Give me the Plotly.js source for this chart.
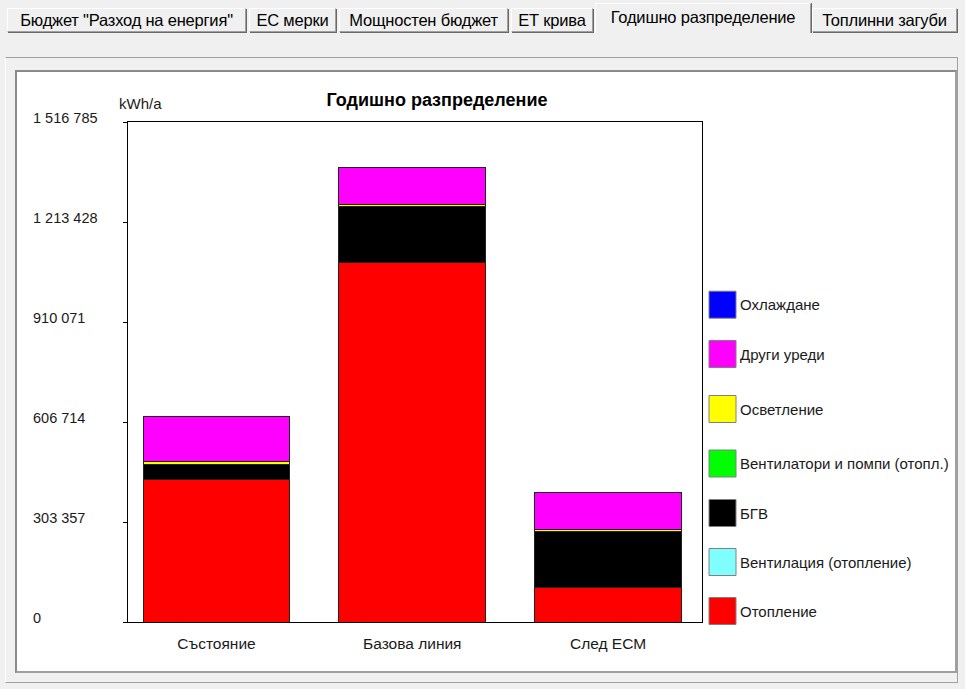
<!DOCTYPE html>
<html>
<head>
<meta charset="utf-8">
<script src="https://cdn.plot.ly/plotly-3.0.1.min.js"></script>
<style>
  html, body { margin:0; padding:0; }
  body { width:965px; height:689px; background:#f0f0f0; position:relative; overflow:hidden;
         font-family:"Liberation Sans", Arial, sans-serif; }
  .tab { position:absolute; top:8px; height:24px; box-sizing:border-box; background:#f0f0f0;
         border-top:1px solid #ffffff; border-left:1px solid #ffffff;
         border-right:1px solid #a0a0a0; border-bottom:1px solid #a0a0a0;
         box-shadow:1px 1px 0 #696969; font-size:16.5px; color:#000; text-align:center; line-height:22px;
         white-space:nowrap; overflow:hidden; letter-spacing:-0.2px; }
  .tab.active { top:3px; height:30px; border-bottom:none; box-shadow:1px 0 0 #696969; line-height:26px; z-index:2; }
  #frame { position:absolute; left:5px; top:57px; width:953px; height:626px; box-sizing:border-box;
           border-top:1px solid #a0a0a0; border-left:1px solid #ffffff; border-right:1px solid #a0a0a0; border-bottom:1px solid #a0a0a0; }
  #panel { position:absolute; left:15px; top:70px; width:942px; height:603px; box-sizing:border-box;
           background:#ffffff; border:2px solid #8a8a8a; border-right-color:#a0a0a0; border-bottom-color:#a0a0a0; }
  #chart { position:absolute; left:0; top:0; width:965px; height:689px; }
</style>
</head>
<body>
<div id="tabs"></div>
<div id="frame"></div>
<div id="panel"></div>
<div id="chart"></div>
<script>
// ---------- data ----------
const tabNames = ['Бюджет "Разход на енергия"', 'ЕС мерки', 'Мощностен бюджет', 'ЕТ крива', 'Годишно разпределение', 'Топлинни загуби'];
const categories = ['Състояние', 'Базова линия', 'След ЕСМ'];
const seriesNames = ['Отопление', 'Вентилация (отопление)', 'БГВ', 'Вентилатори и помпи (отопл.)', 'Осветление', 'Други уреди', 'Охлаждане'];
const heating      = [433400, 1090400, 105400];
const ventilation  = [0, 0, 0];
const hotWater     = [44700, 170100, 169200];
const fansPumps    = [0, 0, 0];
const lighting     = [10000, 7300, 6100];
const otherDevices = [134500, 112400, 112400];
const cooling      = [0, 0, 0];
const tickValues = [0, 303357, 606714, 910071, 1213428, 1516785];
const tickLabels = ['0', '303 357', '606 714', '910 071', '1 213 428', '1 516 785'];
const unitLabel = 'kWh/a';
const chartTitle = 'Годишно разпределение';

// ---------- styles / layout ----------
const seriesValues = [heating, ventilation, hotWater, fansPumps, lighting, otherDevices, cooling];
const seriesColors = ['#ff0000', '#80ffff', '#000000', '#00ff00', '#ffff00', '#ff00ff', '#0000ff'];
const tabBoxes = [[7, 246], [249, 336], [339, 508], [511, 593], [595, 811], [812, 957]];
const activeTab = 4;
// legend row centres in pixels, top row first (Охлаждане ... Отопление)
const legendRowY = [304.7, 354, 409, 463.5, 513, 562, 611];

// tabs (window chrome)
const tabsDiv = document.getElementById('tabs');
tabNames.forEach((t, i) => {
  const d = document.createElement('div');
  d.className = 'tab' + (i === activeTab ? ' active' : '');
  d.style.left = tabBoxes[i][0] + 'px';
  d.style.width = (tabBoxes[i][1] - tabBoxes[i][0]) + 'px';
  d.textContent = t;
  tabsDiv.appendChild(d);
});

const W = 965, H = 689;
const px = x => x / W;
const py = y => 1 - y / H;
const FONT = '"Liberation Sans", Arial, sans-serif';

const traces = seriesNames.map((name, i) => ({
  type: 'bar',
  name: name,
  x: categories,
  y: seriesValues[i],
  width: 0.75,
  marker: { color: seriesColors[i], line: { color: '#222222', width: 1 } },
  showlegend: false,
  hoverinfo: 'x+y+name'
}));

const annotations = [];
// y tick labels, left aligned like the original
tickValues.forEach((v, i) => {
  annotations.push({
    xref: 'paper', x: px(31), xanchor: 'left',
    yref: 'y', y: v, yanchor: 'middle', yshift: 4,
    text: tickLabels[i], showarrow: false,
    font: { family: FONT, size: 14.5, color: '#1a1a1a' }
  });
});
annotations.push({
  xref: 'paper', x: px(117), xanchor: 'left',
  yref: 'paper', y: py(103), yanchor: 'middle',
  text: unitLabel, showarrow: false,
  font: { family: FONT, size: 15, color: '#1a1a1a' }
});

// custom legend (top = last series)
const shapes = [];
const n = seriesNames.length;
for (let k = 0; k < n; k++) {
  const i = n - 1 - k;
  const cy = legendRowY[k];
  shapes.push({
    type: 'rect', xref: 'paper', yref: 'paper',
    x0: px(709), x1: px(736), y0: py(cy - 13.5), y1: py(cy + 13.5),
    fillcolor: seriesColors[i], line: { color: '#808080', width: 1 }
  });
  annotations.push({
    xref: 'paper', x: px(738), xanchor: 'left',
    yref: 'paper', y: py(cy), yanchor: 'middle',
    text: seriesNames[i], showarrow: false,
    font: { family: FONT, size: 15, color: '#1a1a1a' }
  });
}

const layout = {
  width: W, height: H,
  margin: { l: 0, r: 0, t: 0, b: 0, pad: 0 },
  paper_bgcolor: 'rgba(0,0,0,0)',
  plot_bgcolor: 'rgba(0,0,0,0)',
  barmode: 'stack',
  showlegend: false,
  font: { family: FONT, size: 14, color: '#1a1a1a' },
  title: {
    text: chartTitle, xref: 'paper', yref: 'paper',
    x: px(437), xanchor: 'center', y: py(100), yanchor: 'middle',
    font: { family: FONT, size: 18, weight: 'bold', color: '#000000' }
  },
  xaxis: {
    domain: [px(128), px(702)],
    type: 'category',
    range: [-0.452, 2.48],
    showline: true, linecolor: '#000000', linewidth: 1, mirror: true,
    ticks: '', showgrid: false, zeroline: false,
    ticklabelstandoff: 7,
    tickfont: { family: FONT, size: 15.5, color: '#1a1a1a' },
    fixedrange: true
  },
  yaxis: {
    domain: [py(622), py(122)],
    range: [0, tickValues[tickValues.length - 1]],
    tickmode: 'array', tickvals: tickValues, showticklabels: false,
    ticks: 'outside', ticklen: 4, tickcolor: '#000000', tickwidth: 1,
    showline: true, linecolor: '#000000', linewidth: 1, mirror: true,
    showgrid: false, zeroline: false, fixedrange: true
  },
  yaxis2: {
    overlaying: 'y', side: 'left',
    range: [0, tickValues[tickValues.length - 1]],
    tickmode: 'array', tickvals: tickValues, showticklabels: false,
    ticks: 'inside', ticklen: 5, tickcolor: '#000000', tickwidth: 1,
    showline: false, showgrid: false, zeroline: false, fixedrange: true
  },
  annotations: annotations,
  shapes: shapes
};

Plotly.newPlot('chart', traces, layout, { displayModeBar: false, staticPlot: true });
</script>
</body>
</html>
